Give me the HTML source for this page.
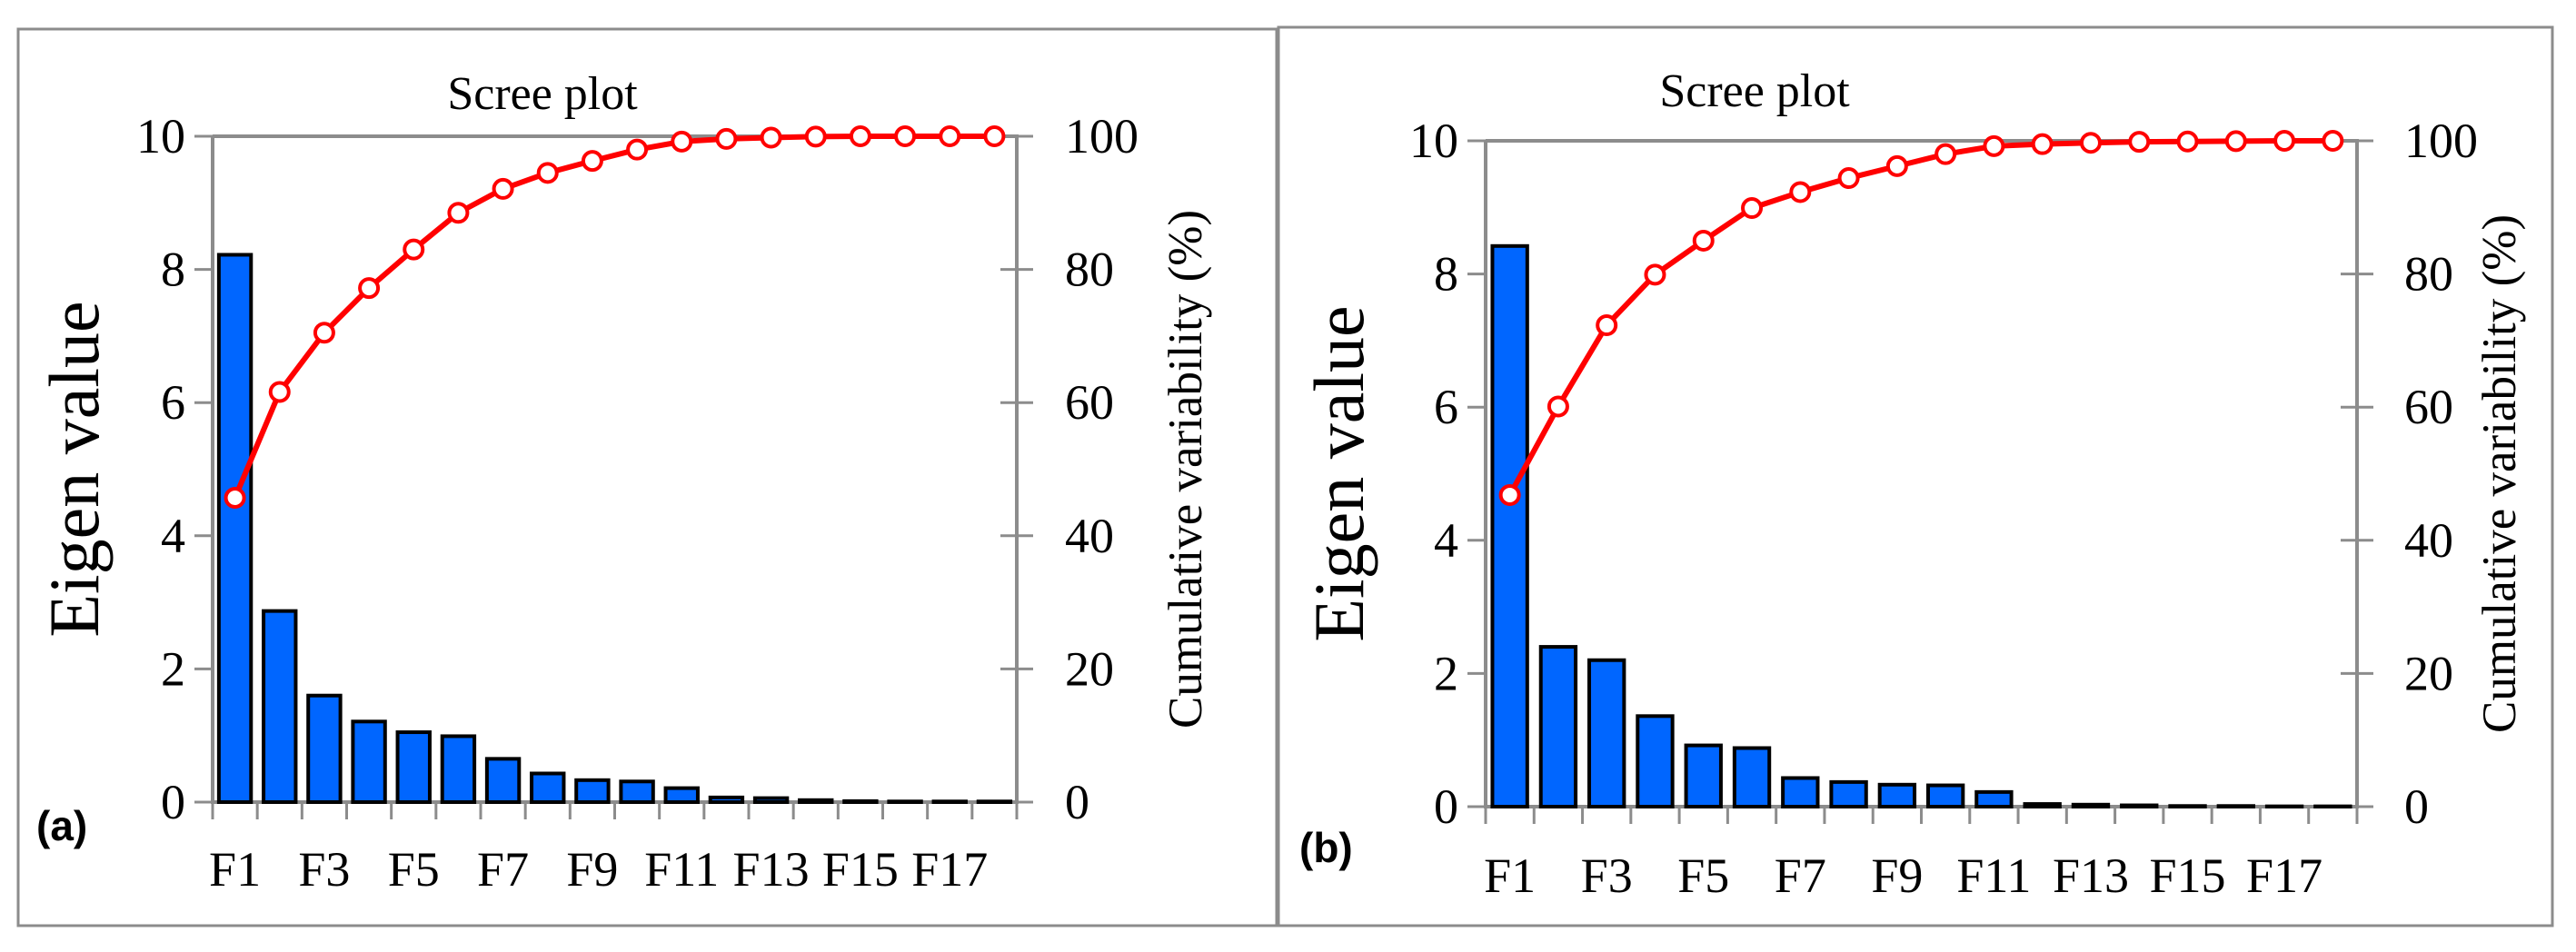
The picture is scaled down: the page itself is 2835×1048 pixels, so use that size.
<!DOCTYPE html>
<html><head><meta charset="utf-8"><style>
html,body{margin:0;padding:0;background:#fff;}
svg{display:block;}
</style></head><body>
<svg id="chart" width="2835" height="1048" viewBox="0 0 2835 1048" xmlns="http://www.w3.org/2000/svg"></svg>
<script>
const categories = ["F1","F2","F3","F4","F5","F6","F7","F8","F9","F10","F11","F12","F13","F14","F15","F16","F17","F18"];
const eigenA = [8.22,2.87,1.6,1.21,1.05,0.99,0.65,0.43,0.33,0.31,0.21,0.07,0.06,0.03,0.015,0.01,0.01,0.01];
const cumA = [45.7,61.6,70.5,77.2,83.0,88.5,92.1,94.5,96.3,98.0,99.2,99.6,99.8,99.95,100,100,100,100];
const eigenB = [8.42,2.4,2.2,1.36,0.92,0.88,0.43,0.37,0.33,0.32,0.22,0.04,0.03,0.02,0.01,0.01,0.005,0.005];
const cumB = [46.8,60.1,72.3,79.9,85.0,89.9,92.3,94.4,96.2,98.0,99.2,99.5,99.7,99.85,99.9,99.95,100,100];
const leftTicks = [0,2,4,6,8,10];
const rightTicks = [0,20,40,60,80,100];

const NS = "http://www.w3.org/2000/svg";
const SERIF = '"Liberation Serif", serif';
const svg = document.getElementById("chart");
function mk(tag, attrs, parent, txt){
  const e = document.createElementNS(NS, tag);
  for (const k in attrs) e.setAttribute(k, attrs[k]);
  if (tag === "text" && !attrs["font-family"]) e.setAttribute("font-family", SERIF);
  if (txt !== undefined) e.textContent = txt;
  (parent || svg).appendChild(e);
  return e;
}

function panel(cfg, eig, cum){
  const g = mk("g", {});
  
  
  const fr = mk("rect", {x:cfg.fx, y:cfg.fy, width:cfg.fw, height:cfg.fh, fill:"none", stroke:"#8c8c8c", "stroke-width":3}, g);
  
  
  const L = cfg.l, R = cfg.r, T = cfg.t, B = cfg.b;
  const n = categories.length, step = (R - L) / n;
  const yL = v => B - v / 10 * (B - T);
  const yR = v => B - v / 100 * (B - T);
  const xC = i => L + step * (i + 0.5);
  const ax = mk("path", {d:`M${L},${T} L${L},${B} L${R},${B} L${R},${T} L${L},${T}`, fill:"none", stroke:"#8c8c8c", "stroke-width":4}, g);
  
  
  leftTicks.forEach(v => {
    mk("line", {x1:L-20, x2:L, y1:yL(v), y2:yL(v), stroke:"#8c8c8c", "stroke-width":3}, g);
    const t = mk("text", {x:L-30, y:yL(v)+18, "text-anchor":"end", "font-size":54, fill:"#000"}, g, v);
    
    
  });
  rightTicks.forEach(v => {
    mk("line", {x1:R-18, x2:R+18, y1:yR(v), y2:yR(v), stroke:"#8c8c8c", "stroke-width":3}, g);
    const t = mk("text", {x:cfg.rtx, y:yR(v)+18, "text-anchor":"start", "font-size":54, fill:"#000"}, g, v);
    
    
  });
  for (let i = 0; i <= n; i++) mk("line", {x1:L+step*i, x2:L+step*i, y1:B, y2:B+19, stroke:"#8c8c8c", "stroke-width":3}, g);
  eig.forEach((v, i) => {
    const bw = step * 0.72;
    const r = mk("rect", {x:xC(i)-bw/2, y:yL(v), width:bw, height:B-yL(v), fill:"#0066ff", stroke:"#000", "stroke-width":4}, g);
    
    
  });
  const d = cum.map((v, i) => (i ? "L" : "M") + xC(i) + "," + yR(v)).join(" ");
  const pl = mk("path", {d:d, fill:"none", stroke:"#ff0000", "stroke-width":6, "stroke-linejoin":"round"}, g);
  
  
  cum.forEach((v, i) => {
    const c = mk("circle", {cx:xC(i), cy:yR(v), r:10, fill:"#fff", stroke:"#ff0000", "stroke-width":4}, g);
    
    
  });
  categories.forEach((c, i) => {
    if (i % 2) return;
    const t = mk("text", {x:xC(i), y:cfg.xly, "text-anchor":"middle", "font-size":54, fill:"#000"}, g, c);
    
    
  });
  const ti = mk("text", {x:cfg.tx, y:cfg.ty, "text-anchor":"middle", "font-size":52, fill:"#000"}, g, "Scree plot");
  
  
  const yl = mk("text", {x:0, y:0, "text-anchor":"middle", "font-size":78, fill:"#000", transform:`translate(${cfg.ylx},${(T+B)/2}) rotate(-90)`}, g, "Eigen value");
  
  
  const yr = mk("text", {x:0, y:0, "text-anchor":"middle", "font-size":53, fill:"#000", transform:`translate(${cfg.yrx},${(T+B)/2}) rotate(-90)`}, g, "Cumulative variability (%)");
  
  
  const pt = mk("text", {x:cfg.px, y:cfg.py, "font-size":46, "font-weight":"bold", fill:"#000", "font-family":'"Liberation Sans", sans-serif'}, g, "(" + cfg.tag + ")");
  
  
}

panel({tag:"a", fx:20, fy:32, fw:1385, fh:987, l:234, r:1119, t:150, b:883, rtx:1172, xly:975, tx:597, ty:120, ylx:108, yrx:1322, px:40, py:925}, eigenA, cumA);
panel({tag:"b", fx:1407, fy:30, fw:1402, fh:989, l:1635, r:2594, t:155, b:888, rtx:2646, xly:982, tx:1931, ty:117, ylx:1500, yrx:2768, px:1430, py:949}, eigenB, cumB);
</script>
</body></html>
